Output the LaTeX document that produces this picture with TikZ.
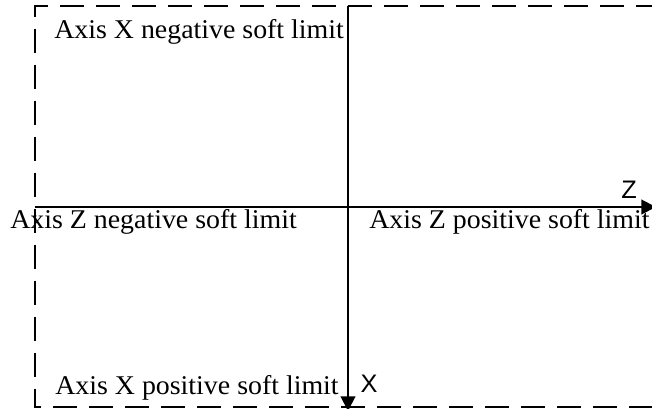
\documentclass[tikz,border=0pt]{standalone}
\usepackage{fontspec}
\setmainfont{Liberation Serif}
\setsansfont{Liberation Sans}
\usetikzlibrary{arrows.meta}
\begin{document}
\begin{tikzpicture}[x=0.75pt,y=-0.75pt,
  axis/.style={line width=1.5pt,-{Triangle[length=11pt,width=11pt]}},
  frame/.style={line width=1.4pt,dash pattern=on 18pt off 9pt},
  lbl/.style={anchor=base west,inner sep=0pt,xscale=1.03,font=\fontsize{20.3}{22}\selectfont},
  axlbl/.style={anchor=base,inner sep=0pt,font=\sffamily\fontsize{19}{20}\selectfont}]
\clip (0,0) rectangle (652,409);
\coordinate (tl) at (35,6);
\coordinate (tr) at (660,6);
\coordinate (bl) at (35,407);
\coordinate (br) at (660,407);
\coordinate (top) at (348,6);
\coordinate (bot) at (348,411);
\coordinate (lft) at (35,207);
\coordinate (rgt) at (656,207);
\draw[frame] (tr) -- (tl) -- (bl) -- (br);
\draw[axis] (top) -- (bot);
\draw[axis] (lft) -- (rgt);
\node[lbl] (xneg) at (54,39) {Axis X negative soft limit};
\node[lbl] (zneg) at (10,229) {Axis Z negative soft limit};
\node[lbl] (zpos) at (369,229) {Axis Z positive soft limit};
\node[lbl] (xpos) at (55,394) {Axis X positive soft limit};
\node[axlbl] (zl) at (629,199) {Z};
\node[axlbl] (xl) at (369,392) {X};
\end{tikzpicture}
\end{document}
